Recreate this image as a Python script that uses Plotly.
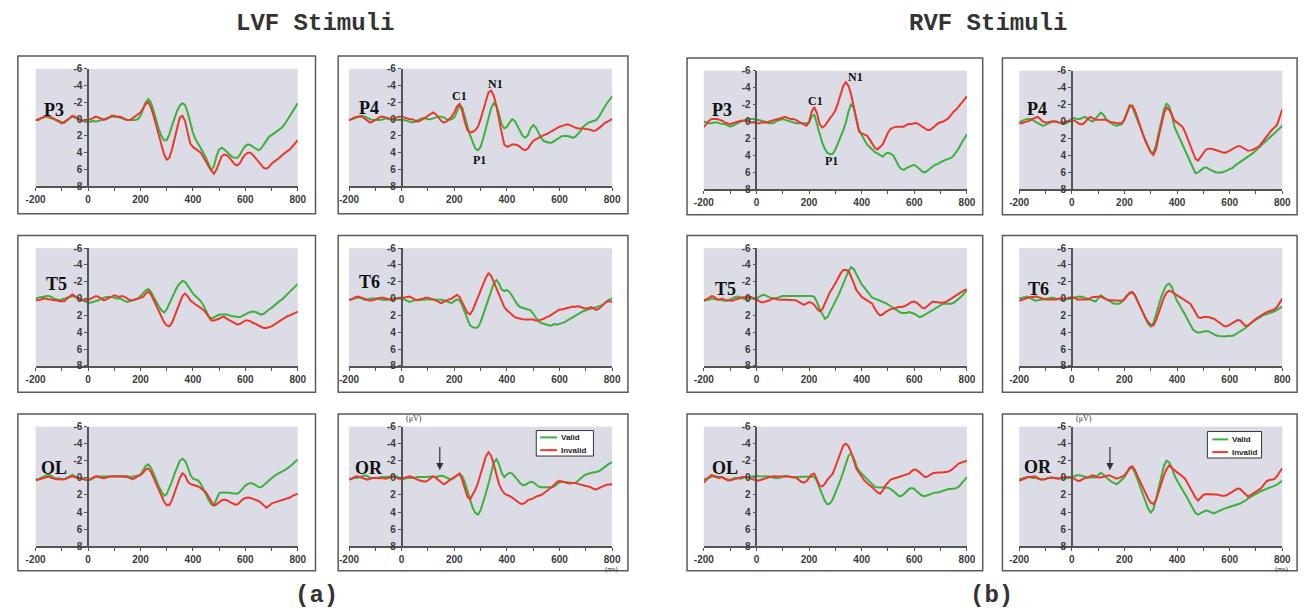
import plotly.graph_objects as go

# ---------------------------------------------------------------- data
# ERP amplitudes (uV) sampled every 10 ms from -200 to 800 ms.
time_ms = list(range(-200, 801, 10))

x_tick_vals = [-200, 0, 200, 400, 600, 800]
x_tick_text = ["-200", "0", "200", "400", "600", "800"]
y_tick_vals = [-6, -4, -2, 0, 2, 4, 6, 8]
y_tick_text = ["-6", "-4", "-2", "0", "2", "4", "6", "8"]

series_names = ["Valid", "Invalid"]

lvf_p3_valid = [
    0.1, 0.0, -0.1, -0.2, -0.3, -0.2, -0.1, 0.0, 0.1, 0.2, 0.4, 0.3, 0.1, -0.1, -0.3, -0.2, 0.0, 0.1, 0.2, 0.3,
    0.3, 0.3, 0.2, 0.3, 0.2, 0.1, 0.0, -0.1, -0.2, -0.3, -0.3, -0.3, -0.2, -0.1, 0.0, 0.1, 0.1, 0.1, 0.1, 0.0,
    -0.4, -1.2, -2.0, -2.4, -2.0, -1.0, 0.2, 1.2, 2.0, 2.5, 2.5, 1.8, 0.8, -0.2, -1.0, -1.6, -1.9, -1.7, -0.8, 0.4,
    1.6, 2.4, 2.9, 3.4, 4.0, 4.6, 5.4, 6.1, 5.6, 4.4, 3.6, 3.4, 3.6, 3.9, 4.2, 4.5, 4.6, 4.6, 4.2, 3.6,
    3.2, 3.0, 3.1, 3.3, 3.6, 3.7, 3.5, 3.0, 2.5, 2.1, 1.9, 1.7, 1.5, 1.3, 1.0, 0.6, 0.1, -0.4, -0.9, -1.4, -1.9,
]
lvf_p3_invalid = [
    0.1, 0.1, -0.1, -0.3, -0.4, -0.4, -0.2, 0.0, 0.2, 0.4, 0.5, 0.4, 0.1, -0.2, -0.4, -0.3, -0.1, 0.1, 0.2, 0.1,
    0.1, 0.0, -0.2, -0.3, -0.2, 0.0, 0.1, 0.0, -0.2, -0.4, -0.4, -0.3, -0.3, -0.2, 0.0, 0.1, 0.1, -0.1, -0.4, -0.6,
    -0.8, -1.3, -1.8, -2.0, -1.4, -0.4, 0.8, 2.0, 3.2, 4.2, 4.8, 4.6, 3.6, 2.2, 0.8, -0.2, -0.4, 0.2, 1.6, 2.9,
    3.3, 3.5, 3.7, 4.0, 4.5, 5.1, 5.6, 6.1, 6.5, 6.0, 5.1, 4.4, 4.2, 4.3, 4.6, 5.0, 5.4, 5.5, 5.2, 4.6,
    4.2, 4.0, 4.0, 4.3, 4.7, 5.1, 5.5, 5.8, 5.9, 5.7, 5.3, 5.1, 4.9, 4.6, 4.3, 4.0, 3.8, 3.6, 3.2, 2.8, 2.5,
]

lvf_p4_valid = [
    0.1, 0.0, -0.1, -0.2, -0.3, -0.4, -0.3, -0.1, 0.0, 0.1, 0.1, 0.1, 0.1, 0.0, -0.1, 0.0, 0.0, 0.1, 0.1, 0.1,
    0.1, 0.1, 0.2, 0.3, 0.4, 0.3, 0.1, 0.0, -0.1, -0.1, 0.0, 0.0, -0.1, -0.2, -0.3, -0.3, -0.2, 0.0, 0.1, 0.0,
    -0.2, -0.9, -1.7, -1.4, -0.4, 0.8, 1.9, 2.8, 3.5, 3.7, 3.3, 2.3, 1.0, -0.3, -1.3, -1.9, -1.6, -0.6, 0.6, 1.1,
    0.9, 0.4, 0.0, 0.2, 0.8, 1.5, 2.0, 2.2, 1.9, 1.1, 0.7, 1.0, 1.6, 2.2, 2.6, 2.7, 2.8, 2.8, 2.6, 2.3,
    2.1, 2.0, 2.0, 2.0, 2.1, 2.2, 2.1, 1.8, 1.4, 0.9, 0.6, 0.4, 0.3, 0.2, 0.1, -0.3, -0.9, -1.4, -1.9, -2.3, -2.7,
]
lvf_p4_invalid = [
    0.1, 0.0, -0.2, -0.3, -0.35, -0.3, -0.1, 0.2, 0.4, 0.3, 0.1, -0.1, -0.3, -0.3, -0.2, -0.1, 0.0, -0.1, -0.2, -0.3,
    -0.3, -0.2, -0.1, 0.0, 0.0, 0.2, 0.3, 0.2, 0.0, -0.2, -0.5, -0.7, -0.8, -0.6, -0.2, 0.2, 0.4, 0.3, 0.0, -0.3,
    -0.8, -1.5, -1.8, -1.0, 0.3, 1.3, 1.6, 1.5, 1.3, 0.9, 0.0, -1.1, -2.3, -3.2, -3.4, -2.8, -1.6, -0.2, 1.6, 3.0,
    3.3, 3.2, 3.0, 3.0, 3.1, 3.3, 3.6, 3.7, 3.5, 3.0, 2.6, 2.4, 2.2, 2.0, 1.9, 1.8, 1.6, 1.4, 1.2, 1.0,
    0.9, 0.8, 0.7, 0.6, 0.7, 0.9, 1.0, 1.1, 1.1, 1.1, 1.2, 1.2, 1.3, 1.4, 1.3, 1.1, 0.8, 0.5, 0.3, 0.1, 0.0,
]

rvf_p3_valid = [
    0.0, 0.1, 0.2, 0.2, 0.1, 0.1, 0.2, 0.3, 0.3, 0.5, 0.6, 0.5, 0.3, 0.1, 0.0, -0.1, -0.2, -0.2, -0.3, -0.3,
    -0.25, -0.2, -0.1, 0.0, 0.1, 0.2, 0.2, 0.1, -0.1, -0.2, -0.3, -0.2, -0.1, 0.0, 0.1, 0.2, 0.2, 0.2, 0.2, 0.2,
    0.1, -0.6, -0.8, 0.3, 1.5, 2.5, 3.2, 3.7, 3.85, 3.8, 3.3, 2.6, 1.8, 1.0, 0.1, -1.2, -2.1, -1.6, -0.2, 1.0,
    1.6, 2.2, 2.7, 3.0, 3.3, 3.6, 3.75, 4.0, 4.15, 3.8, 3.7, 3.8, 4.0, 4.6, 5.2, 5.6, 5.7, 5.5, 5.3, 5.2,
    5.1, 5.3, 5.6, 5.9, 6.0, 5.8, 5.5, 5.3, 5.1, 5.0, 4.8, 4.6, 4.5, 4.4, 4.3, 4.0, 3.6, 3.1, 2.5, 2.0, 1.5,
]
rvf_p3_invalid = [
    0.65, 0.3, -0.1, -0.3, -0.3, -0.3, -0.2, -0.1, 0.1, 0.2, 0.3, 0.2, 0.1, 0.0, -0.1, -0.1, -0.1, 0.0, 0.1, 0.1,
    0.2, 0.2, 0.1, 0.1, 0.1, 0.0, -0.1, -0.2, -0.3, -0.4, -0.5, -0.55, -0.4, -0.3, -0.3, -0.2, 0.0, 0.2, 0.4, 0.5,
    0.1, -1.2, -1.7, -1.0, 0.3, 0.7, 0.5, 0.0, -0.4, -0.8, -1.3, -2.2, -3.3, -4.2, -4.65, -4.2, -3.2, -1.6, 0.0, 1.2,
    1.4, 1.5, 1.65, 2.1, 2.6, 3.1, 3.3, 3.0, 2.7, 2.0, 1.3, 0.85, 0.7, 0.6, 0.6, 0.6, 0.6, 0.4, 0.3, 0.3,
    0.2, 0.2, 0.4, 0.6, 0.8, 1.0, 1.0, 0.8, 0.5, 0.2, 0.1, 0.0, -0.2, -0.4, -0.8, -1.2, -1.45, -1.8, -2.2, -2.6, -3.0,
]

rvf_p4_valid = [
    0.1, -0.1, -0.2, -0.3, -0.3, -0.2, 0.0, 0.2, 0.4, 0.5, 0.4, 0.2, 0.1, 0.0, 0.0, 0.1, 0.2, 0.2, 0.2, 0.0,
    -0.4, -0.4, -0.3, -0.3, -0.4, -0.55, -0.4, -0.1, 0.0, -0.3, -0.7, -1.05, -0.8, -0.3, 0.0, 0.2, 0.4, 0.5, 0.4, 0.3,
    -0.3, -1.2, -1.95, -1.7, -0.9, 0.0, 0.8, 1.5, 2.3, 3.0, 3.6, 3.7, 2.8, 1.3, -0.2, -1.4, -2.1, -1.8, -0.8, 0.6,
    1.3, 2.0, 2.7, 3.5, 4.2, 4.9, 5.6, 6.1, 6.0, 5.7, 5.5, 5.4, 5.6, 5.8, 5.9, 6.0, 6.0, 6.0, 5.9, 5.8,
    5.6, 5.5, 5.2, 5.0, 4.8, 4.6, 4.4, 4.1, 3.9, 3.7, 3.4, 3.1, 2.8, 2.5, 2.2, 1.9, 1.65, 1.4, 1.1, 0.8, 0.5,
]
rvf_p4_invalid = [
    0.2, 0.2, 0.1, 0.0, -0.1, -0.3, -0.4, -0.55, -0.3, 0.0, 0.1, 0.1, 0.0, 0.0, 0.0, 0.1, 0.1, 0.1, 0.0, -0.1,
    -0.2, -0.1, 0.1, 0.3, 0.35, 0.1, -0.3, -0.55, -0.4, -0.2, -0.2, -0.2, -0.2, -0.2, 0.0, 0.1, 0.1, 0.2, 0.2, 0.2,
    -0.2, -1.0, -1.8, -1.9, -1.3, -0.4, 0.6, 1.5, 2.3, 3.0, 3.6, 3.95, 3.3, 1.8, 0.3, -0.9, -1.65, -1.4, -0.8, -0.1,
    0.1, 0.3, 0.6, 1.2, 2.0, 2.8, 3.6, 4.4, 4.6, 4.2, 3.7, 3.3, 3.2, 3.2, 3.3, 3.4, 3.5, 3.6, 3.7, 3.6,
    3.4, 3.2, 3.0, 2.9, 2.9, 3.1, 3.3, 3.45, 3.4, 3.3, 3.1, 3.0, 2.6, 2.2, 1.8, 1.3, 1.0, 0.7, 0.4, -0.5, -1.45,
]

lvf_t5_valid = [
    0.0, -0.1, -0.2, -0.2, -0.3, -0.3, -0.2, 0.0, 0.1, 0.2, 0.1, 0.0, -0.1, -0.2, -0.3, -0.2, -0.1, 0.0, 0.2, 0.4,
    0.5, 0.5, 0.4, 0.3, 0.2, 0.0, -0.1, -0.2, -0.2, -0.2, -0.1, 0.0, 0.0, 0.1, 0.3, 0.4, 0.3, 0.2, 0.1, 0.0,
    -0.3, -0.7, -1.0, -1.15, -0.8, -0.2, 0.4, 0.9, 1.4, 1.65, 1.3, 0.6, -0.1, -0.8, -1.4, -1.8, -2.1, -2.0, -1.6, -1.1,
    -0.6, -0.3, 0.0, 0.3, 0.8, 1.5, 2.1, 2.4, 2.2, 2.0, 1.9, 1.9, 1.9, 1.9, 2.0, 2.1, 2.1, 2.2, 2.2, 2.0,
    1.9, 1.7, 1.6, 1.55, 1.6, 1.8, 1.9, 1.8, 1.5, 1.3, 1.1, 0.8, 0.6, 0.3, 0.1, -0.2, -0.5, -0.8, -1.1, -1.4, -1.75,
]
lvf_t5_invalid = [
    0.2, 0.2, 0.1, 0.0, 0.0, 0.1, 0.1, 0.2, 0.2, 0.3, 0.3, 0.3, 0.0, -0.3, -0.5, -0.3, 0.0, 0.1, 0.2, 0.2,
    0.2, 0.0, -0.2, -0.3, -0.2, 0.0, 0.2, 0.1, -0.1, -0.3, -0.4, -0.3, -0.2, -0.3, -0.2, 0.0, 0.2, 0.2, 0.1, 0.0,
    -0.1, -0.2, -0.6, -0.85, -0.5, 0.2, 0.9, 1.6, 2.3, 2.8, 3.2, 3.3, 2.9, 2.1, 1.2, 0.3, -0.3, -0.6, -0.3, 0.2,
    0.5, 0.7, 0.9, 1.1, 1.35, 1.7, 2.2, 2.6, 2.6, 2.5, 2.4, 2.2, 2.2, 2.4, 2.6, 2.8, 3.0, 3.1, 3.0, 2.8,
    2.6, 2.6, 2.7, 2.9, 3.0, 3.2, 3.4, 3.5, 3.5, 3.4, 3.3, 3.1, 2.9, 2.7, 2.4, 2.2, 2.1, 2.0, 1.8, 1.7, 1.55,
]

lvf_t6_valid = [
    0.15, 0.1, 0.0, -0.1, -0.1, 0.0, 0.15, 0.1, 0.0, 0.0, 0.0, 0.0, 0.1, 0.15, 0.15, 0.1, 0.0, 0.0, 0.0, 0.0,
    0.0, 0.1, 0.3, 0.4, 0.3, 0.2, 0.2, 0.15, 0.15, 0.1, 0.1, 0.1, 0.1, 0.1, 0.1, 0.15, 0.2, 0.3, 0.45, 0.55,
    0.3, 0.1, 0.2, 0.8, 1.6, 2.5, 3.2, 3.4, 3.5, 3.4, 2.8, 1.9, 1.0, 0.0, -1.0, -1.8, -2.2, -1.8, -1.1, -0.9,
    -1.0, -0.8, -0.3, 0.2, 0.7, 1.0, 1.1, 1.2, 1.3, 1.4, 1.8, 2.3, 2.7, 2.9, 3.0, 3.1, 3.2, 3.2, 3.0, 3.1,
    3.0, 2.9, 2.8, 2.6, 2.4, 2.3, 2.1, 1.9, 1.7, 1.5, 1.4, 1.3, 1.2, 1.1, 1.0, 0.95, 0.8, 0.6, 0.3, 0.1, 0.0,
]
lvf_t6_invalid = [
    0.15, 0.1, -0.1, -0.25, -0.2, -0.1, 0.0, 0.1, 0.25, 0.2, 0.1, 0.0, -0.1, -0.1, 0.0, 0.1, 0.15, 0.1, 0.0, -0.1,
    -0.1, -0.1, -0.2, -0.25, -0.1, 0.1, 0.15, 0.1, 0.0, -0.1, -0.1, 0.0, 0.1, 0.2, 0.4, 0.55, 0.4, 0.2, 0.1, 0.0,
    -0.2, -0.45, -0.2, 0.5, 1.2, 1.7, 1.85, 1.4, 0.6, -0.2, -1.0, -1.8, -2.5, -3.0, -2.7, -2.0, -1.2, -0.4, 0.4, 1.0,
    1.4, 1.7, 2.0, 2.2, 2.3, 2.4, 2.45, 2.5, 2.5, 2.5, 2.5, 2.6, 2.6, 2.5, 2.4, 2.2, 2.1, 1.9, 1.7, 1.4,
    1.3, 1.3, 1.2, 1.1, 1.0, 0.95, 1.0, 0.9, 1.0, 1.1, 1.2, 1.1, 1.0, 1.2, 1.35, 1.2, 0.9, 0.5, 0.3, 0.3, 0.4,
]

rvf_t5_valid = [
    0.25, 0.2, 0.1, 0.0, 0.05, 0.1, 0.2, 0.2, 0.25, 0.25, 0.1, -0.1, -0.2, -0.25, -0.1, 0.0, 0.1, 0.1, 0.0, 0.0,
    0.0, -0.2, -0.4, -0.45, -0.3, -0.1, 0.0, 0.0, -0.1, -0.2, -0.3, -0.3, -0.3, -0.3, -0.3, -0.3, -0.3, -0.3, -0.3, -0.3,
    -0.3, -0.3, -0.2, 0.4, 1.2, 1.9, 2.4, 2.2, 1.6, 1.0, 0.4, -0.3, -1.0, -1.8, -2.6, -3.3, -3.75, -3.5, -2.9, -2.2,
    -1.7, -1.3, -0.9, -0.5, -0.1, 0.0, 0.1, 0.25, 0.4, 0.5, 0.7, 0.9, 1.1, 1.4, 1.6, 1.7, 1.7, 1.7, 1.6, 1.7,
    1.8, 2.0, 2.2, 2.1, 1.9, 1.7, 1.5, 1.3, 1.1, 0.9, 0.8, 0.6, 0.6, 0.6, 0.6, 0.5, 0.3, 0.0, -0.3, -0.7, -1.0,
]
rvf_t5_invalid = [
    0.25, 0.1, -0.1, -0.3, -0.2, 0.1, 0.1, 0.0, 0.15, 0.2, 0.25, 0.25, 0.1, 0.0, -0.1, -0.15, -0.15, -0.2, -0.2, 0.0,
    0.1, 0.3, 0.45, 0.4, 0.3, 0.2, 0.0, 0.0, 0.1, 0.15, 0.15, 0.15, 0.15, 0.15, 0.15, 0.2, 0.4, 0.6, 0.75, 0.6,
    0.4, 0.5, 0.75, 1.2, 1.5, 1.3, 0.6, -0.2, -0.8, -1.3, -1.8, -2.4, -3.0, -3.4, -3.4, -3.3, -2.6, -1.7, -1.0, -0.6,
    -0.2, 0.0, 0.2, 0.3, 0.6, 1.2, 1.7, 2.0, 1.9, 1.6, 1.4, 1.25, 1.2, 1.1, 1.0, 1.0, 0.95, 0.8, 0.6, 0.4,
    0.35, 0.5, 0.8, 1.1, 1.15, 0.9, 0.6, 0.35, 0.4, 0.45, 0.5, 0.45, 0.4, 0.2, 0.0, -0.25, -0.5, -0.7, -0.9, -1.0, -1.1,
]

rvf_t6_valid = [
    0.0, -0.1, -0.2, -0.25, -0.1, 0.1, 0.25, 0.2, 0.15, 0.1, 0.1, 0.0, -0.1, -0.1, 0.0, 0.1, 0.15, 0.15, 0.1, 0.05,
    0.0, -0.1, -0.2, -0.25, -0.2, -0.1, 0.0, 0.1, 0.25, 0.35, 0.0, -0.4, -0.2, 0.1, 0.2, 0.4, 0.6, 0.6, 0.6, 0.4,
    0.0, -0.4, -0.6, -0.7, -0.4, 0.3, 1.0, 1.7, 2.4, 3.0, 3.35, 2.9, 1.9, 0.8, -0.2, -1.0, -1.6, -1.8, -1.4, -0.5,
    0.3, 0.8, 1.3, 1.9, 2.5, 3.1, 3.65, 3.9, 4.05, 4.0, 3.9, 3.85, 3.9, 4.1, 4.3, 4.4, 4.45, 4.5, 4.5, 4.45,
    4.45, 4.45, 4.3, 4.1, 3.9, 3.75, 3.5, 3.2, 2.9, 2.7, 2.5, 2.3, 2.1, 1.95, 1.85, 1.75, 1.6, 1.5, 1.35, 1.1, 0.95,
]
rvf_t6_invalid = [
    0.25, 0.15, 0.0, -0.05, -0.15, -0.2, -0.25, -0.2, -0.1, 0.0, 0.1, 0.1, 0.1, 0.1, 0.1, 0.0, 0.0, -0.05, 0.0, -0.1,
    -0.2, -0.1, 0.1, 0.1, 0.1, 0.1, 0.1, -0.05, -0.2, -0.2, -0.2, -0.25, -0.1, 0.1, 0.2, 0.2, 0.2, 0.2, 0.25, 0.25,
    0.1, -0.3, -0.7, -0.8, -0.4, 0.3, 1.0, 1.7, 2.3, 2.8, 3.1, 3.2, 2.6, 1.7, 0.8, -0.1, -0.7, -0.95, -0.8, -0.6,
    -0.4, -0.25, -0.1, 0.1, 0.3, 0.6, 1.1, 1.7, 2.2, 2.3, 2.2, 2.2, 2.2, 2.3, 2.4, 2.6, 2.8, 3.1, 3.3, 3.3,
    3.1, 2.9, 2.7, 2.55, 2.6, 2.9, 3.25, 3.2, 2.9, 2.6, 2.4, 2.2, 2.0, 1.75, 1.6, 1.5, 1.4, 1.3, 1.0, 0.5, 0.0,
]

lvf_ol_valid = [
    0.3, 0.2, 0.0, -0.15, -0.3, -0.4, -0.2, 0.0, 0.05, 0.1, 0.15, 0.15, 0.0, -0.2, -0.35, -0.2, 0.0, 0.05, 0.15, 0.25,
    0.3, 0.2, 0.0, -0.15, -0.15, -0.15, -0.15, -0.15, -0.2, -0.2, -0.2, -0.2, -0.2, -0.2, -0.2, -0.2, -0.1, -0.15, -0.2, -0.2,
    -0.3, -0.9, -1.4, -1.6, -1.2, -0.5, 0.3, 1.0, 1.6, 2.1, 1.9, 1.2, 0.4, -0.5, -1.3, -2.0, -2.25, -2.0, -1.3, -0.4,
    0.1, 0.2, 0.3, 0.7, 1.4, 2.1, 2.6, 3.1, 3.2, 2.5, 1.8, 1.7, 1.7, 1.7, 1.75, 1.8, 1.85, 1.85, 1.6, 1.2,
    0.9, 0.7, 0.6, 0.7, 0.9, 1.05, 1.1, 0.9, 0.6, 0.3, 0.0, -0.2, -0.4, -0.55, -0.7, -0.9, -1.1, -1.3, -1.6, -1.9, -2.15,
]
lvf_ol_invalid = [
    0.15, 0.2, 0.1, 0.0, -0.1, -0.15, 0.0, 0.1, 0.15, 0.15, 0.2, 0.15, 0.0, -0.1, -0.2, -0.1, 0.05, 0.0, 0.1, 0.2,
    0.3, 0.1, -0.1, -0.2, -0.1, 0.0, 0.05, -0.05, -0.15, -0.2, -0.2, -0.2, -0.15, -0.15, -0.15, -0.1, 0.0, 0.15, 0.0, -0.2,
    -0.3, -0.6, -1.0, -1.1, -0.7, 0.0, 0.7, 1.4, 2.1, 2.8, 3.2, 3.2, 2.6, 1.8, 0.9, 0.0, -0.55, -0.3, 0.4, 0.7,
    0.8, 0.9, 1.0, 1.2, 1.4, 1.7, 2.2, 2.8, 3.25, 3.1, 2.8, 2.6, 2.55, 2.6, 2.8, 3.0, 3.1, 3.1, 2.8, 2.5,
    2.35, 2.3, 2.35, 2.45, 2.55, 2.7, 2.9, 3.2, 3.5, 3.3, 3.0, 2.9, 2.8, 2.7, 2.6, 2.45, 2.4, 2.3, 2.1, 2.0, 1.85,
]

lvf_or_valid = [
    0.2, 0.1, 0.0, 0.0, -0.1, -0.2, -0.3, -0.2, 0.0, 0.0, 0.0, 0.0, -0.1, -0.1, -0.1, -0.1, -0.2, -0.2, -0.2, 0.0,
    0.1, 0.1, 0.0, 0.0, 0.0, 0.0, -0.1, -0.1, -0.05, -0.1, -0.1, -0.15, -0.1, -0.1, -0.2, -0.25, -0.2, 0.0, 0.1, 0.2,
    0.0, -0.3, -0.5, -0.2, 0.5, 1.5, 2.6, 3.5, 4.1, 4.3, 3.8, 2.9, 1.8, 0.7, -0.6, -1.8, -2.2, -1.6, -0.6, -0.1,
    -0.4, -0.6, -0.5, -0.2, 0.2, 0.6, 0.85, 0.8, 0.6, 0.45, 0.5, 0.8, 1.0, 1.1, 1.1, 1.1, 1.1, 1.1, 1.0, 0.7,
    0.5, 0.45, 0.5, 0.55, 0.6, 0.6, 0.6, 0.3, 0.0, -0.2, -0.4, -0.5, -0.6, -0.65, -0.7, -0.8, -1.0, -1.25, -1.5, -1.7, -1.85,
]
lvf_or_invalid = [
    0.2, 0.1, -0.1, -0.2, -0.1, 0.0, 0.1, 0.2, 0.1, 0.0, 0.0, 0.0, 0.0, 0.05, 0.1, 0.0, -0.1, -0.15, 0.0, 0.1,
    0.1, 0.0, -0.15, -0.2, -0.1, 0.1, 0.2, 0.3, 0.4, 0.45, 0.3, 0.0, -0.2, 0.0, 0.3, 0.5, 0.75, 0.6, 0.3, 0.1,
    -0.2, -0.4, -0.5, 0.2, 1.2, 2.2, 2.5, 2.0, 1.4, 0.6, -0.4, -1.5, -2.5, -3.0, -2.6, -1.6, -0.4, 0.7, 1.4, 1.8,
    2.0, 2.1, 2.3, 2.5, 2.8, 3.0, 3.05, 2.9, 2.6, 2.5, 2.4, 2.2, 2.1, 2.0, 1.8, 1.6, 1.35, 1.1, 0.8, 0.5,
    0.35, 0.4, 0.5, 0.6, 0.65, 0.6, 0.6, 0.7, 0.8, 0.9, 0.95, 1.0, 1.1, 1.3, 1.35, 1.2, 1.0, 0.9, 0.8, 0.75, 0.75,
]

rvf_ol_valid = [
    0.15, 0.1, 0.0, -0.15, -0.2, -0.15, -0.15, -0.1, 0.1, 0.3, 0.2, 0.1, 0.0, 0.05, 0.1, 0.0, -0.1, -0.1, -0.15, -0.2,
    -0.25, -0.2, -0.2, -0.2, -0.2, -0.15, -0.05, 0.0, 0.05, 0.0, -0.15, -0.25, -0.2, -0.1, -0.05, -0.1, -0.1, -0.1, -0.1, -0.1,
    -0.1, -0.1, -0.15, 0.4, 1.2, 2.0, 2.7, 3.1, 3.0, 2.5, 1.8, 1.0, 0.2, -0.7, -1.8, -2.6, -2.9, -2.3, -1.4, -0.8,
    -0.5, -0.2, 0.1, 0.4, 0.8, 1.05, 1.1, 1.1, 1.1, 1.1, 1.15, 1.3, 1.5, 1.8, 2.1, 2.15, 1.9, 1.6, 1.3, 1.2,
    1.3, 1.6, 1.9, 2.1, 2.15, 2.05, 1.9, 1.8, 1.7, 1.7, 1.6, 1.5, 1.4, 1.3, 1.3, 1.25, 1.2, 1.0, 0.6, 0.2, -0.1,
]
rvf_ol_invalid = [
    0.55, 0.2, -0.1, -0.35, -0.2, -0.05, 0.0, -0.1, 0.1, 0.2, 0.3, 0.2, 0.1, 0.0, -0.05, -0.1, -0.1, 0.0, 0.1, 0.2,
    0.3, 0.3, 0.2, 0.1, -0.05, -0.1, -0.15, -0.2, -0.15, -0.15, -0.2, -0.2, -0.15, -0.1, -0.1, -0.05, 0.2, 0.45, 0.55, 0.4,
    0.0, -0.4, -0.5, 0.3, 0.9, 1.0, 0.7, 0.2, -0.1, -0.5, -1.3, -2.1, -3.0, -3.8, -4.0, -3.7, -3.0, -2.0, -1.1, -0.6,
    -0.1, 0.3, 0.6, 0.8, 1.1, 1.4, 1.7, 1.85, 1.5, 0.9, 0.5, 0.2, 0.1, 0.0, -0.1, -0.2, -0.3, -0.35, -0.5, -0.8,
    -1.0, -0.9, -0.6, -0.3, -0.1, -0.15, -0.4, -0.55, -0.6, -0.6, -0.6, -0.65, -0.7, -0.75, -0.9, -1.2, -1.5, -1.7, -1.8, -1.9, -2.0,
]

rvf_or_valid = [
    0.2, 0.1, 0.0, -0.1, -0.1, 0.0, 0.0, 0.1, 0.15, 0.2, 0.15, 0.0, -0.05, -0.05, 0.0, 0.05, 0.1, 0.1, 0.05, 0.0,
    -0.05, -0.2, -0.3, -0.3, -0.2, -0.1, -0.05, -0.05, -0.05, -0.05, -0.3, -0.6, -0.4, -0.05, 0.2, 0.45, 0.65, 0.75, 0.5, 0.2,
    -0.1, -0.6, -1.1, -1.2, -0.6, 0.2, 1.0, 1.8, 2.7, 3.6, 4.05, 3.7, 2.5, 1.1, -0.2, -1.4, -2.0, -1.8, -1.2, -0.3,
    0.3, 0.8, 1.3, 1.9, 2.4, 3.0, 3.6, 4.1, 4.3, 4.1, 3.9, 3.8, 3.9, 4.05, 4.15, 4.0, 3.85, 3.7, 3.6, 3.5,
    3.4, 3.3, 3.2, 3.1, 3.0, 2.8, 2.65, 2.4, 2.2, 2.0, 1.85, 1.7, 1.55, 1.4, 1.3, 1.15, 1.05, 0.95, 0.8, 0.55, 0.35,
]
rvf_or_invalid = [
    0.35, 0.2, 0.05, -0.05, -0.1, -0.15, -0.2, 0.0, 0.15, 0.2, 0.1, 0.0, -0.05, 0.0, 0.05, 0.1, 0.0, -0.1, -0.1, -0.05,
    -0.05, 0.1, 0.3, 0.35, 0.2, 0.0, -0.05, -0.15, -0.3, -0.2, -0.05, -0.05, -0.15, -0.25, -0.3, -0.2, 0.0, 0.1, 0.0, -0.15,
    -0.3, -0.7, -1.2, -1.35, -0.9, -0.2, 0.5, 1.2, 1.8, 2.4, 2.9, 3.05, 2.6, 1.6, 0.6, -0.3, -1.0, -1.45, -1.2, -0.9,
    -0.65, -0.45, -0.2, 0.1, 0.6, 1.2, 1.8, 2.3, 2.65, 2.3, 2.0, 1.9, 1.9, 1.9, 1.9, 1.95, 2.0, 2.1, 2.1, 2.0,
    1.8, 1.6, 1.4, 1.25, 1.3, 1.6, 2.0, 2.2, 2.0, 1.8, 1.6, 1.5, 1.2, 0.8, 0.4, 0.25, 0.2, 0.15, -0.2, -0.7, -1.15,
]

# ---------------------------------------------------------------- layout
W, H = 1312, 615
GREEN = "#3db03d"
RED = "#e8392c"
PLOT_BG = "#dcdce6"
AXIS_COLOR = "#555555"
TICK_FONT = dict(family="Liberation Sans, Arial", size=10, color="#3a3a3a", weight="bold")


def px(x):
    return x / W


def py(y):
    return 1 - y / H


# plot-area and frame extents (pixels) per column / row
COL_PLOT = [(26, 292), (344, 611), (704, 971), (1024, 1291)]
COL_FRAME = [(8, 310), (333, 627), (687, 987), (1007, 1306)]
ROW_PLOT_LVF = [(64, 184), (247, 367), (429, 551)]
ROW_PLOT_RVF = [(66, 187), (247, 367), (429, 551)]
ROW_FRAME_LVF = [(51, 212), (234, 394), (416, 576)]
ROW_FRAME_RVF = [(53, 213), (234, 394), (416, 576)]

panels = [
    dict(lab="P3", g=lvf_p3_valid, r=lvf_p3_invalid, col=0, row=0, lx=-128, ly=-1.1),
    dict(lab="P4", g=lvf_p4_valid, r=lvf_p4_invalid, col=1, row=0, lx=-124, ly=-1.3),
    dict(lab="P3", g=rvf_p3_valid, r=rvf_p3_invalid, col=2, row=0, lx=-130, ly=-1.35),
    dict(lab="P4", g=rvf_p4_valid, r=rvf_p4_invalid, col=3, row=0, lx=-134, ly=-1.45),
    dict(lab="T5", g=lvf_t5_valid, r=lvf_t5_invalid, col=0, row=1, lx=-122, ly=-1.75),
    dict(lab="T6", g=lvf_t6_valid, r=lvf_t6_invalid, col=1, row=1, lx=-121, ly=-1.95),
    dict(lab="T5", g=rvf_t5_valid, r=rvf_t5_invalid, col=2, row=1, lx=-117, ly=-1.1),
    dict(lab="T6", g=rvf_t6_valid, r=rvf_t6_invalid, col=3, row=1, lx=-125, ly=-1.1),
    dict(lab="OL", g=lvf_ol_valid, r=lvf_ol_invalid, col=0, row=2, lx=-128, ly=-1.2),
    dict(lab="OR", g=lvf_or_valid, r=lvf_or_invalid, col=1, row=2, lx=-125, ly=-1.1),
    dict(lab="OL", g=rvf_ol_valid, r=rvf_ol_invalid, col=2, row=2, lx=-121, ly=-1.2),
    dict(lab="OR", g=rvf_or_valid, r=rvf_or_invalid, col=3, row=2, lx=-127, ly=-1.3),
]

for p in panels:
    for key in ("g", "r"):
        if len(p[key]) != len(time_ms):
            raise ValueError(f"{p['lab']} col{p['col']} {key}: {len(p[key])} values")

fig = go.Figure()
layout = dict(
    width=W, height=H,
    margin=dict(l=0, r=0, t=0, b=0),
    paper_bgcolor="white",
    plot_bgcolor=PLOT_BG,
    showlegend=False,
)
shapes = []
annotations = []

for i, p in enumerate(panels):
    k = i + 1
    xname = "x" if k == 1 else f"x{k}"
    yname = "y" if k == 1 else f"y{k}"
    xkey = "xaxis" if k == 1 else f"xaxis{k}"
    ykey = "yaxis" if k == 1 else f"yaxis{k}"
    rvf = p["col"] >= 2
    x0, x1 = COL_PLOT[p["col"]]
    y0, y1 = (ROW_PLOT_RVF if rvf else ROW_PLOT_LVF)[p["row"]]
    fx0, fx1 = COL_FRAME[p["col"]]
    fy0, fy1 = (ROW_FRAME_RVF if rvf else ROW_FRAME_LVF)[p["row"]]

    fig.add_trace(go.Scatter(x=time_ms, y=p["g"], mode="lines", name=series_names[0],
                             line=dict(color=GREEN, width=2), xaxis=xname, yaxis=yname))
    fig.add_trace(go.Scatter(x=time_ms, y=p["r"], mode="lines", name=series_names[1],
                             line=dict(color=RED, width=2), xaxis=xname, yaxis=yname))

    layout[xkey] = dict(
        domain=[px(x0), px(x1)], range=[-200, 800], anchor=yname,
        showgrid=False, zeroline=False, showline=True,
        linecolor=AXIS_COLOR, linewidth=1.5,
        tickmode="array", tickvals=x_tick_vals, ticktext=x_tick_text,
        ticks="outside", ticklen=3, tickcolor=AXIS_COLOR, tickwidth=1,
        minor=dict(dtick=100, ticks="outside", ticklen=3, tickcolor=AXIS_COLOR, showgrid=False),
        tickfont=TICK_FONT, fixedrange=True,
    )
    layout[ykey] = dict(
        domain=[py(y1), py(y0)], range=[8, -6], anchor="free",
        position=px(x0 + 0.2 * (x1 - x0)),
        showgrid=False, zeroline=False, showline=True,
        linecolor=AXIS_COLOR, linewidth=1.5,
        tickmode="array", tickvals=y_tick_vals, ticktext=y_tick_text,
        ticks="outside", ticklen=3, tickcolor=AXIS_COLOR, tickwidth=1,
        tickfont=TICK_FONT, fixedrange=True,
    )

    # outer frame of the panel
    shapes.append(dict(type="rect", xref="paper", yref="paper",
                       x0=px(fx0), x1=px(fx1), y0=py(fy1), y1=py(fy0),
                       line=dict(color="#5a5a5a", width=1.5), fillcolor="rgba(0,0,0,0)"))

    # electrode label
    annotations.append(dict(x=p["lx"], y=p["ly"], xref=xname, yref=yname, text=f"<b>{p['lab']}</b>",
                            showarrow=False, font=dict(family="Liberation Serif, Times New Roman", size=18, color="#111")))

    if p["lab"] == "OR":
        # stimulus-onset arrow
        annotations.append(dict(x=145, y=-0.9, ax=145, ay=-3.8, xref=xname, yref=yname,
                                axref=xname, ayref=yname, text="", showarrow=True,
                                arrowhead=2, arrowsize=1.2, arrowwidth=1.2, arrowcolor="#333"))
        # unit labels
        annotations.append(dict(x=px(x0 + 0.2 * (x1 - x0)) + 0.002, y=py(y0) + 0.002, xref="paper", yref="paper",
                                text="(μV)", showarrow=False, xanchor="left", yanchor="bottom",
                                font=dict(family="Liberation Serif", size=8, color="#333")))
        annotations.append(dict(x=px(x1), y=py(y1 + 17), xref="paper", yref="paper",
                                text="(ms)", showarrow=False, xanchor="center", yanchor="top",
                                font=dict(family="Liberation Serif", size=7, color="#333")))

# component markers
comp_font = dict(family="Liberation Serif, Times New Roman", size=12, color="#111")
for kx, ky, txt, xx, yy in [
    ("x2", "y2", "C1", 220, -2.75), ("x2", "y2", "N1", 356, -4.15), ("x2", "y2", "P1", 294, 4.8),
    ("x3", "y3", "C1", 225, -2.4), ("x3", "y3", "N1", 376, -5.2), ("x3", "y3", "P1", 285, 4.7),
]:
    annotations.append(dict(x=xx, y=yy, xref=kx, yref=ky, text=f"<b>{txt}</b>", showarrow=False, font=comp_font))

# legends inside the OR panels
for bx0, by0, bx1, by1, lx0, lx1, gy, ry, tx in [
    (534, 433, 592, 459, 538, 555, 440, 453, 557),
    (1215, 434, 1270, 461, 1220, 1236, 442, 455, 1238),
]:
    shapes.append(dict(type="rect", xref="paper", yref="paper", x0=px(bx0), x1=px(bx1), y0=py(by1), y1=py(by0),
                       line=dict(color="#333", width=1), fillcolor="white"))
    for yy, col, name in [(gy, GREEN, series_names[0]), (ry, RED, series_names[1])]:
        shapes.append(dict(type="line", xref="paper", yref="paper", x0=px(lx0), x1=px(lx1), y0=py(yy), y1=py(yy),
                           line=dict(color=col, width=2)))
        annotations.append(dict(x=px(tx), y=py(yy), xref="paper", yref="paper", text=f"<b>{name}</b>",
                                showarrow=False, xanchor="left", yanchor="middle",
                                font=dict(family="Liberation Sans, Arial", size=8, color="#222")))

# figure titles and captions
title_font = dict(family="Liberation Mono, Courier New", size=24, color="#333")
for txt, xx, yy in [("<b>LVF Stimuli</b>", 309, 18), ("<b>RVF Stimuli</b>", 992, 18),
                    ("<b>(a)</b>", 311, 601), ("<b>(b)</b>", 996, 601)]:
    annotations.append(dict(x=px(xx), y=py(yy), xref="paper", yref="paper", text=txt, showarrow=False,
                            xanchor="center", yanchor="middle", font=title_font))

layout["shapes"] = shapes
layout["annotations"] = annotations
fig.update_layout(**layout)
fig.write_html("out.html")
